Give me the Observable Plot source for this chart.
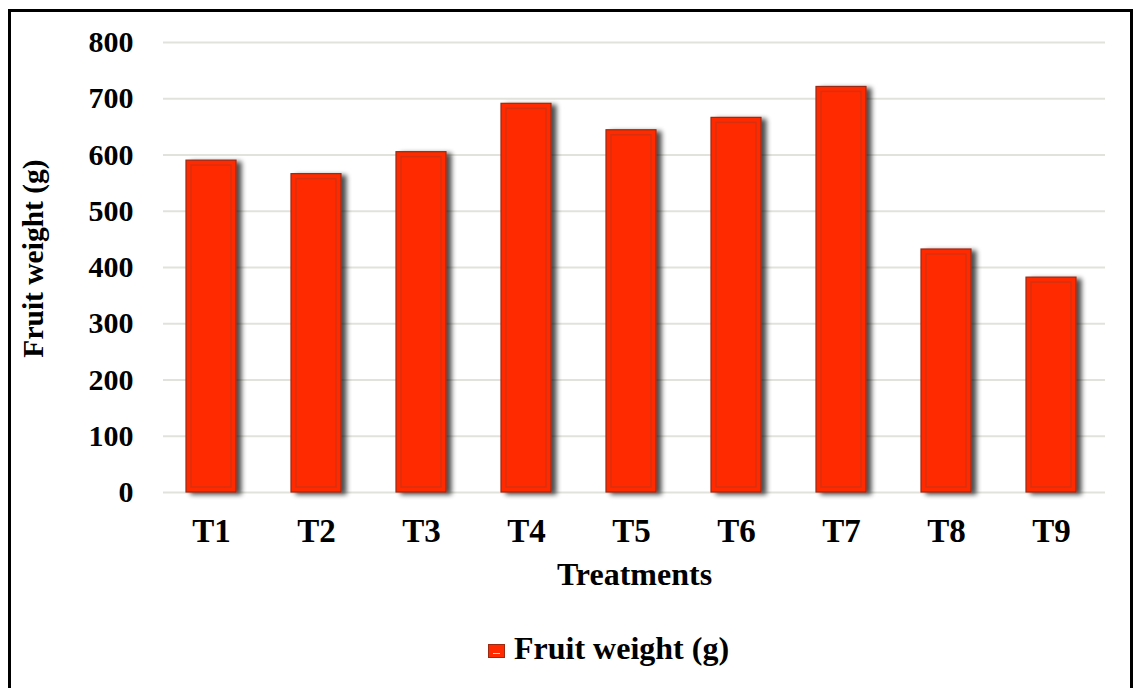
<!DOCTYPE html>
<html>
<head>
<meta charset="utf-8">
<script src="https://cdn.jsdelivr.net/npm/d3@7"></script>
<script src="https://cdn.jsdelivr.net/npm/@observablehq/plot@0.6"></script>
<style>
  html, body { margin: 0; padding: 0; background: #fff; overflow: hidden; width: 1134px; height: 688px; }
  #wrap { position: relative; width: 1134px; height: 688px; }
  #frame { position: absolute; left: 8px; top: 9px; width: 1119px; height: 690px; border: 3px solid #000; box-sizing: content-box; pointer-events: none; }
  #chart { position: absolute; left: 0; top: 0; }
  #legend { position: absolute; left: 488px; top: 630px; display: flex; align-items: center; font-family: "Liberation Serif", "Times New Roman", serif; font-weight: bold; font-size: 32px; color: #000; }
  #legend .sw { width: 17px; height: 14px; background: #ff2a00; border: 1px solid #9a2a12; box-sizing: border-box; margin-right: 9px; margin-top: 5px; position: relative; }
  #legend .sw::after { content: ""; position: absolute; left: 4px; right: 4px; bottom: 3px; height: 1px; background: #ffd0c0; }
</style>
</head>
<body>
<div id="wrap">
  <div id="chart"></div>
  <div id="legend"><span class="sw"></span><span>Fruit weight (g)</span></div>
  <div id="frame"></div>
</div>
<script>
const treatments = ["T1", "T2", "T3", "T4", "T5", "T6", "T7", "T8", "T9"];
const fruitWeight = [590, 566, 605, 691, 644, 666, 721, 432, 382];
const yTicks = [0, 100, 200, 300, 400, 500, 600, 700, 800];
const seriesName = "Fruit weight (g)";
const xTitle = "Treatments";
const yTitle = "Fruit weight (g)";

const data = treatments.map((t, i) => ({ treatment: t, value: fruitWeight[i] }));
const font = '"Liberation Serif", "Times New Roman", serif';

const plot = Plot.plot({
  width: 1134,
  height: 600,
  marginLeft: 163,
  marginRight: 29,
  marginTop: 42,
  marginBottom: 108,
  style: { fontFamily: font, fontWeight: "bold", color: "#000", background: "transparent", overflow: "visible" },
  x: { domain: treatments, paddingInner: 0.52, paddingOuter: 0.24, align: 0.45, label: null },
  y: { domain: [0, 800], label: null },
  marks: [
    Plot.ruleY(yTicks, { stroke: "#e2e2dc", strokeWidth: 2 }),
    Plot.barY(data, { x: "treatment", y: "value", fill: "#ff2a00", stroke: "#9a2a12", strokeWidth: 1.2 }),
    Plot.barY(data, { x: "treatment", y: "value", fill: "none", stroke: "#d8300f", strokeWidth: 1.5, inset: 5 }),
    Plot.axisX({ tickSize: 0, tickPadding: 26, fontSize: 33, label: null }),
    Plot.axisY({ ticks: yTicks, tickSize: 0, tickPadding: 30, fontSize: 30, tickFormat: d => String(d), label: null }),
    Plot.text([xTitle], { text: d => d, frameAnchor: "bottom", lineAnchor: "bottom", dy: 92, fontSize: 32, fontWeight: "bold" }),
    Plot.text([yTitle], { text: d => d, frameAnchor: "left", rotate: -90, textAnchor: "middle", lineAnchor: "middle", dx: -130, dy: -9, fontSize: 29.5, fontWeight: "bold" })
  ]
});

// Drop shadow on the main bars
const svg = d3.select(plot);
const defs = svg.insert("defs", ":first-child");
const f = defs.append("filter").attr("id", "barShadow").attr("x", "-20%").attr("y", "-10%").attr("width", "160%").attr("height", "130%");
f.append("feGaussianBlur").attr("in", "SourceAlpha").attr("stdDeviation", 2.5).attr("result", "blur");
f.append("feOffset").attr("in", "blur").attr("dx", 5).attr("dy", 2).attr("result", "off");
f.append("feComponentTransfer").attr("in", "off").attr("result", "shadow")
  .append("feFuncA").attr("type", "linear").attr("slope", 0.7);
const m = f.append("feMerge");
m.append("feMergeNode").attr("in", "shadow");
m.append("feMergeNode").attr("in", "SourceGraphic");
const barGroups = plot.querySelectorAll('g[aria-label="bar"]');
if (barGroups.length) barGroups[0].setAttribute("filter", "url(#barShadow)");

document.getElementById("chart").appendChild(plot);
</script>
</body>
</html>
